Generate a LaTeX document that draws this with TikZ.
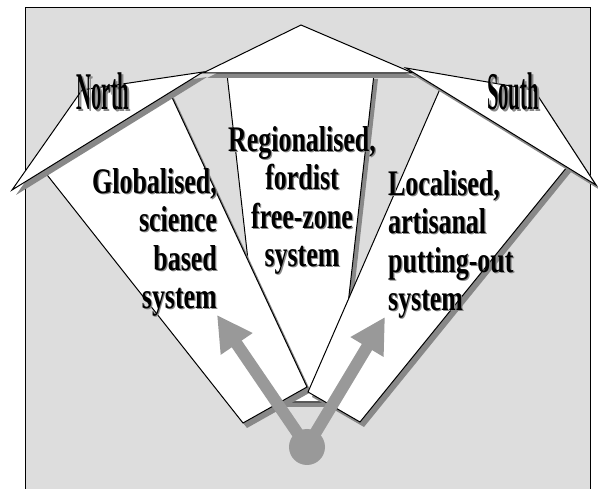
\documentclass[tikz,border=0pt]{standalone}
\usepackage{fontspec}
\setmainfont{Liberation Serif}
\newfontfamily\panelfont[FakeStretch=0.72]{Liberation Serif}
\newfontfamily\rooffont[FakeStretch=0.39]{Liberation Serif}
\usetikzlibrary{arrows.meta, shadows}
\definecolor{backgray}{RGB}{221,221,221}
\definecolor{shadegray}{RGB}{136,136,136}
\definecolor{arrowgray}{RGB}{153,153,153}
% word with a small grey shadow behind it
\newcommand{\shadedword}[2][1.2pt]{%
  \makebox[0pt][l]{\hspace{#1}\raisebox{-#1}{\textcolor{shadegray}{#2}}}#2}

\begin{document}
\begin{tikzpicture}[x=1pt, y=-1pt,
    panel/.style={draw=black, line width=1pt, fill=white,
      drop shadow={shadow xshift=4pt, shadow yshift=-5pt, fill=shadegray, opacity=1}},
    paneltext/.style={inner sep=0pt, font=\panelfont\bfseries\fontsize{36}{38.5}\selectfont},
    rooftext/.style={inner sep=0pt, anchor=base, font=\rooffont\bfseries\fontsize{53}{53}\selectfont},
    flow/.style={draw=arrowgray, line width=12pt, -{Triangle[length=35pt, width=36pt]}}]
  \useasboundingbox (0,0) rectangle (598,489);
  % frame
  \draw[fill=backgray, line width=1pt] (25,8) rectangle (590,520);
  % centre panel
  \path[panel] (227,74) -- (374,74) -- (337,402) -- (264,402) -- cycle;
  \path[panel] (203,73) -- (301,25) -- (413,73) -- cycle;
  % left panel
  \path[panel] (44,171) -- (170,93) -- (307,387) -- (243,423) -- cycle;
  \path[panel] (12,190) -- (82,90) -- (203,72) -- cycle;
  % right panel
  \path[panel] (440,89) -- (567,167) -- (360,422) -- (308,392) -- cycle;
  \path[panel] (406,68) -- (534,90) -- (596,185) -- cycle;
  % labels
  \node[paneltext, align=right, anchor=north east] (globaltext) at (217,168)
    {\shadedword{Globalised,}\\\shadedword{science}\\\shadedword{based}\\\shadedword{system}};
  \node[paneltext, align=center, anchor=north] (regiontext) at (302,126)
    {\shadedword{Regionalised,}\\\shadedword{fordist}\\\shadedword{free-zone}\\\shadedword{system}};
  \node[paneltext, align=left, anchor=north west] (localtext) at (388,170)
    {\shadedword{Localised,}\\\shadedword{artisanal}\\\shadedword{putting-out}\\\shadedword{system}};
  \node[rooftext] (north) at (103,110) {\shadedword[2pt]{North}};
  \node[rooftext] (south) at (513,110) {\shadedword[2pt]{South}};
  % arrows
  \node[circle, fill=arrowgray, minimum size=36pt, inner sep=0pt] (hub) at (307,447) {};
  \coordinate (globaltip) at (217,315);
  \coordinate (localtip) at (385,317);
  \draw[flow] (hub.center) -- (globaltip);
  \draw[flow] (hub.center) -- (localtip);
\end{tikzpicture}
\end{document}
